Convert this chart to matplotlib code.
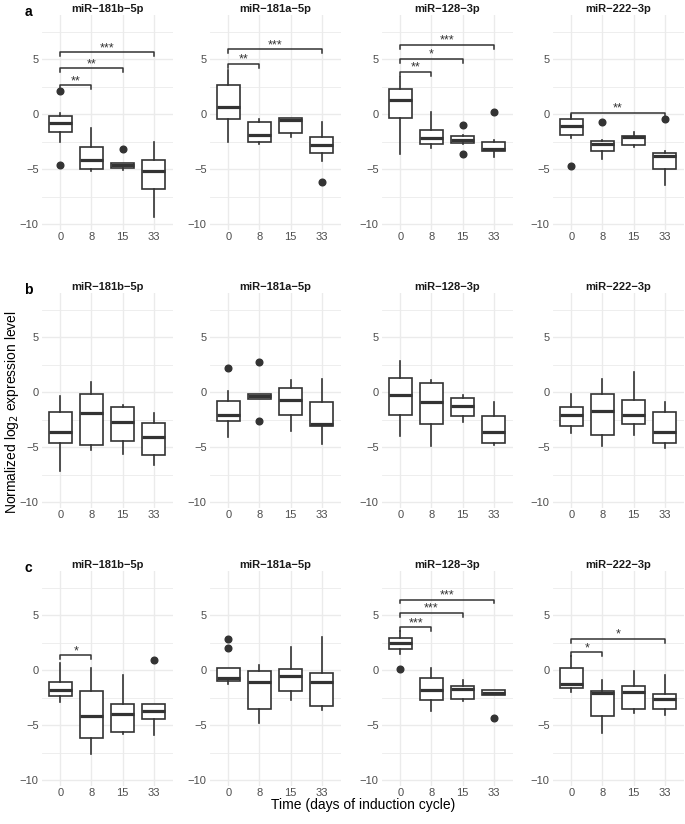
import matplotlib.pyplot as plt

plt.rcParams['font.family'] = ['Liberation Sans', 'DejaVu Sans']

MIRNAS = ['miR\u2212181b\u22125p', 'miR\u2212181a\u22125p', 'miR\u2212128\u22123p', 'miR\u2212222\u22123p']
TIMES = ['0', '8', '15', '33']
ROWS = ['a', 'b', 'c']

# box stats per row: rows = miRNA, columns = time point
A_LO = [[-2.5, -5.2, -5.1, -9.4], [-2.5, -2.75, -2.1, -4.25], [-3.6, -3.1, -2.7, -3.95], [-2.15, -4.05, -3.0, -6.45]]
A_Q1 = [[-1.6, -5.0, -4.9, -6.85], [-0.45, -2.5, -1.7, -3.5], [-0.35, -2.75, -2.65, -3.4], [-1.95, -3.35, -2.8, -5.0]]
A_MED = [[-0.83, -4.2, -4.6, -5.2], [0.65, -1.95, -0.5, -2.8], [1.25, -2.2, -2.4, -3.2], [-1.05, -2.75, -2.05, -3.85]]
A_Q3 = [[-0.15, -3.0, -4.45, -4.2], [2.6, -0.7, -0.4, -2.1], [2.3, -1.45, -2.0, -2.5], [-0.45, -2.45, -2.0, -3.55]]
A_HI = [[0.1, -1.3, -4.45, -2.5], [4.0, -0.45, -0.4, -0.75], [3.4, 0.15, -1.9, -2.35], [-0.1, -2.35, -1.6, -3.35]]
A_OUT = {(0, 0): [2.1, -4.6], (0, 2): [-3.2], (1, 3): [-6.2], (2, 2): [-1.0, -3.6],
         (2, 3): [0.15], (3, 0): [-4.75], (3, 1): [-0.7], (3, 3): [-0.45]}
A_SIG = [(0, 2, 2.6, '**'), (0, 3, 4.15, '**'), (0, 4, 5.6, '***'),
         (1, 2, 4.55, '**'), (1, 4, 5.9, '***'),
         (2, 2, 3.85, '**'), (2, 3, 5.0, '*'), (2, 4, 6.3, '***'),
         (3, 4, 0.1, '**')]

B_LO = [[-7.2, -5.3, -5.65, -6.65], [-4.1, -0.65, -3.5, -4.7], [-4.0, -4.9, -2.75, -4.8], [-3.7, -4.9, -3.95, -5.05]]
B_Q1 = [[-4.6, -4.8, -4.45, -5.7], [-2.65, -0.65, -2.1, -3.1], [-2.05, -2.95, -2.2, -4.65], [-3.05, -3.9, -2.95, -4.65]]
B_MED = [[-3.65, -1.9, -2.7, -4.1], [-2.1, -0.35, -0.7, -2.95], [-0.3, -0.95, -1.25, -3.65], [-2.05, -1.75, -2.1, -3.6]]
B_Q3 = [[-1.85, -0.15, -1.35, -2.8], [-0.8, -0.15, 0.4, -0.9], [1.3, 0.8, -0.5, -2.2], [-1.35, -0.2, -0.7, -1.85]]
B_HI = [[-0.35, 0.9, -1.2, -1.9], [0.05, -0.15, 1.05, 1.15], [2.8, 1.1, -0.3, -0.9], [-0.2, 1.15, 1.8, -0.95]]
B_OUT = {(1, 0): [2.2], (1, 1): [2.7, -2.6]}
B_SIG = []

C_LO = [[-2.9, -7.6, -5.85, -5.9], [-1.3, -4.8, -2.75, -3.6], [1.5, -3.75, -2.85, -2.3], [-2.0, -5.75, -3.95, -4.05]]
C_Q1 = [[-2.35, -6.2, -5.6, -4.45], [-1.0, -3.5, -1.95, -3.25], [1.9, -2.75, -2.6, -2.3], [-1.65, -4.15, -3.55, -3.5]]
C_MED = [[-1.85, -4.15, -4.0, -3.7], [-0.7, -1.05, -0.55, -1.05], [2.45, -1.8, -1.75, -2.1], [-1.3, -2.05, -2.0, -2.6]]
C_Q3 = [[-1.05, -1.95, -3.1, -3.1], [0.2, -0.05, 0.1, -0.3], [2.95, -0.75, -1.45, -1.8], [0.15, -1.95, -1.45, -2.2]]
C_HI = [[0.6, 0.15, -0.45, -3.1], [0.2, 0.5, 2.1, 3.0], [3.55, 0.15, -0.9, -1.8], [1.25, -0.9, -0.1, -0.45]]
C_OUT = {(0, 3): [0.9], (1, 0): [2.85, 2.0], (2, 0): [0.1], (2, 3): [-4.35]}
C_SIG = [(0, 2, 1.35, '*'),
         (2, 2, 3.9, '***'), (2, 3, 5.2, '***'), (2, 4, 6.4, '***'),
         (3, 2, 1.6, '*'), (3, 4, 2.85, '*')]

row_data = [
    (A_LO, A_Q1, A_MED, A_Q3, A_HI, A_OUT, A_SIG),
    (B_LO, B_Q1, B_MED, B_Q3, B_HI, B_OUT, B_SIG),
    (C_LO, C_Q1, C_MED, C_Q3, C_HI, C_OUT, C_SIG),
]

W, H = 685, 824
fig = plt.figure(figsize=(W / 100, H / 100), dpi=100)

col_centers = [107, 275, 447, 618]
panel_w = 131
row_tops = [15, 293, 571]
panel_h = 214.5
dark = '#333333'
grid = '#EBEBEB'

for r in range(3):
    lo, q1, med, q3, hi, out, sig = row_data[r]
    for m in range(4):
        left = (col_centers[m] - panel_w / 2) / W
        bottom = 1 - (row_tops[r] + panel_h) / H
        ax = fig.add_axes([left, bottom, panel_w / W, panel_h / H])
        stats = []
        for t in range(4):
            stats.append(dict(whislo=lo[m][t], q1=q1[m][t], med=med[m][t], q3=q3[m][t],
                              whishi=hi[m][t], fliers=out.get((m, t), [])))
        ax.bxp(stats, positions=[1, 2, 3, 4], widths=0.75, showcaps=False, patch_artist=True,
               boxprops=dict(facecolor='white', edgecolor=dark, linewidth=1.2),
               medianprops=dict(color=dark, linewidth=2.3, solid_capstyle='butt'),
               whiskerprops=dict(color=dark, linewidth=1.2),
               flierprops=dict(marker='o', markerfacecolor=dark, markeredgecolor=dark, markersize=4.8),
               zorder=3)
        for mm, j, h, lab in sig:
            if mm != m:
                continue
            ax.plot([1, 1, j, j], [h - 0.35, h, h, h - 0.35], color=dark, lw=1.1, zorder=4)
            ax.text((1 + j) / 2, h + 0.1, lab, ha='center', va='baseline', fontsize=9, color=dark)
        ax.set_xlim(0.4, 4.6)
        ax.set_ylim(-10.5, 9.0)
        ax.set_yticks([-10, -5, 0, 5])
        ax.set_yticks([-7.5, -2.5, 2.5, 7.5], minor=True)
        ax.set_xticks([1, 2, 3, 4])
        ax.set_xticklabels(TIMES)
        ax.grid(True, which='major', color=grid, lw=1.0, zorder=0)
        ax.grid(True, which='minor', axis='y', color=grid, lw=0.6, zorder=0)
        ax.set_axisbelow(True)
        for s in ax.spines.values():
            s.set_visible(False)
        ax.tick_params(which='both', length=0, labelsize=8, labelcolor='#4D4D4D', pad=2)
        ax.set_title(MIRNAS[m], fontsize=8, fontweight='bold', color='#1A1A1A', pad=2.5)
    fig.text(28 / W, 1 - (row_tops[r] - 3) / H, ROWS[r], fontsize=10, fontweight='bold',
             ha='center', va='center')

fig.text(12 / W, 0.5, 'Normalized log$_2$ expression level', rotation=90, ha='center', va='center',
         fontsize=10)
fig.text(363 / W, 1 - 805 / H, 'Time (days of induction cycle)', ha='center', va='center', fontsize=10)

fig.savefig('out.png', dpi=100)
